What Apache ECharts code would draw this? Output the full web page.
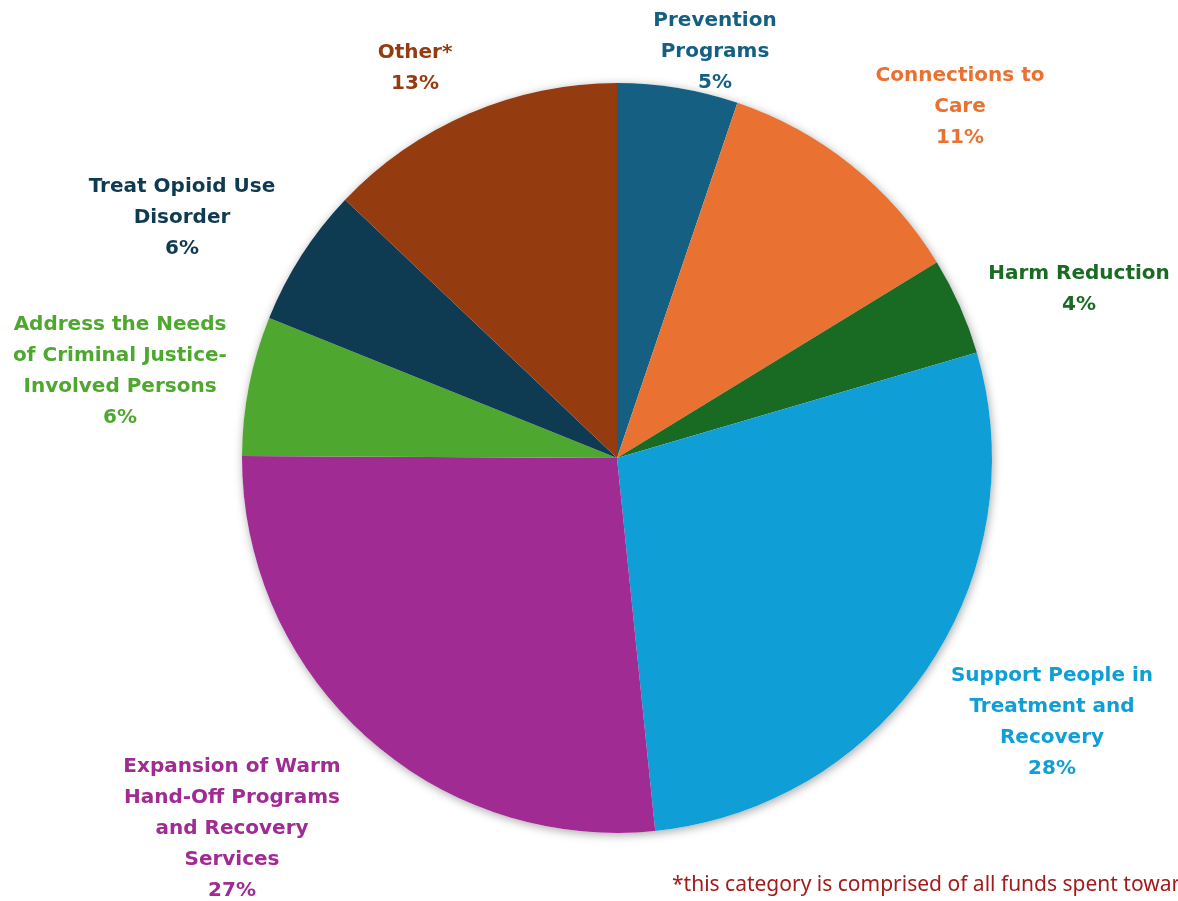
<!DOCTYPE html>
<html>
<head>
<meta charset="utf-8">
<script src="https://cdn.jsdelivr.net/npm/echarts@6/dist/echarts.min.js"></script>
<style>
html,body{margin:0;padding:0;background:#fff;}
#chart{width:1178px;height:901px;}
</style>
</head>
<body>
<div id="chart"></div>
<script>
const categories = [
  'Prevention\nPrograms',
  'Connections to\nCare',
  'Harm Reduction',
  'Support People in\nTreatment and\nRecovery',
  'Expansion of Warm\nHand-Off Programs\nand Recovery\nServices',
  'Address the Needs\nof Criminal Justice-\nInvolved Persons',
  'Treat Opioid Use\nDisorder',
  'Other*'
];
const values = [5.2, 11.05, 4.2, 27.9, 26.7, 6.0, 6.0, 12.9];
const colors = ['#156082', '#E97132', '#196B24', '#0F9ED5', '#A02B93', '#4EA72E', '#0E3A52', '#953B10'];
const footnote = '*this category is comprised of all funds spent towar';

// label block centres (layout)
const labelPos = [
  [715, 52], [960, 107], [1079, 289], [1052, 722],
  [232, 829], [120, 371], [182, 218], [415, 68]
];

const chart = echarts.init(document.getElementById('chart'), null, {renderer: 'canvas'});
const center = [617, 458];
const radius = 375;

chart.setOption({
  backgroundColor: '#ffffff',
  animation: false,
  series: [
    {
      type: 'pie',
      silent: true,
      center: center,
      radius: radius,
      z: 1,
      label: {show: false},
      labelLine: {show: false},
      data: [{value: 1, itemStyle: {color: '#ffffff', shadowBlur: 10, shadowColor: 'rgba(0,0,0,0.35)', shadowOffsetX: 1, shadowOffsetY: 2}}]
    },
    {
      type: 'pie',
      center: center,
      radius: radius,
      startAngle: 90,
      clockwise: true,
      z: 2,
      itemStyle: {borderWidth: 0},
      labelLine: {show: false},
      label: {
        show: true,
        position: 'outside',
        overflow: 'none',
        fontFamily: 'DejaVu Sans',
        fontWeight: 'bold',
        fontSize: 20,
        lineHeight: 31,
        align: 'center',
        formatter: function (p) {
          return p.name + '\n' + Math.round(p.percent) + '%';
        }
      },
      labelLayout: function (params) {
        const pos = labelPos[params.dataIndex];
        return {x: pos[0], y: pos[1], align: 'center', verticalAlign: 'middle'};
      },
      data: categories.map(function (c, i) {
        return {
          name: c,
          value: values[i],
          itemStyle: {color: colors[i]},
          label: {color: colors[i]}
        };
      })
    }
  ],
  graphic: [
    {
      type: 'text',
      left: 672,
      top: 875,
      style: {
        text: footnote,
        fill: '#A31B1B',
        font: '21px "Noto Sans"'
      }
    }
  ]
});
</script>
</body>
</html>
